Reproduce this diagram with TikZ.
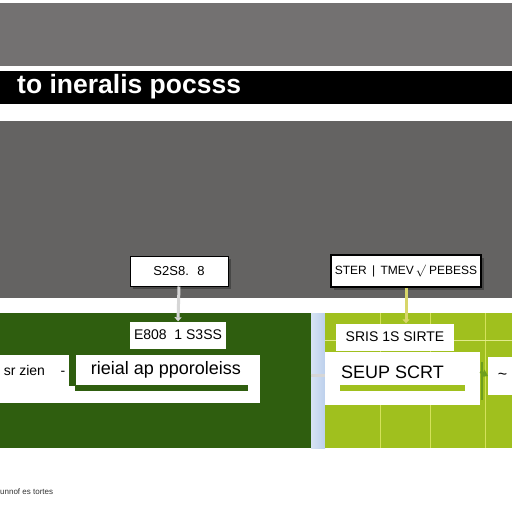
\documentclass[tikz,border=0pt]{standalone}
\usepackage{fontspec}
\setmainfont{Liberation Sans}
\usetikzlibrary{arrows.meta,shadows}
\definecolor{topgray}{HTML}{737171}
\definecolor{midgray}{HTML}{646362}
\definecolor{darkgreen}{HTML}{2F5E0F}
\definecolor{lightgreen}{HTML}{A0C01E}
\definecolor{gridline}{HTML}{D4E25A}
\definecolor{bluestrip}{HTML}{BCD0EC}
\definecolor{conngray}{HTML}{D6D6D6}
\definecolor{connyellow}{HTML}{D8D66A}
\definecolor{arrowgreen}{HTML}{6E9E1E}
\begin{document}
\begin{tikzpicture}[x=1pt,y=-1pt,
  box/.style={fill=white, inner sep=0pt, align=center, font=\fontsize{13}{13}\selectfont},
  outlined/.style={box, draw=black, line width=1pt, drop shadow={shadow xshift=3pt, shadow yshift=-3pt, fill=black!75, opacity=0.8}},
  thickbox/.style={box, draw=black, line width=2.2pt, drop shadow={shadow xshift=3pt, shadow yshift=-3pt, fill=black!75, opacity=0.8}},
  conn/.style={line width=3pt, -{Triangle[length=4pt,width=7pt]}}
]
\useasboundingbox (0,0) rectangle (512,512);
\fill[white] (0,0) rectangle (512,512);
% bands
\fill[topgray] (0,3) rectangle (512,66);
\fill[black] (0,71) rectangle (512,104);
\node[anchor=west, text=white, inner sep=0pt, font=\fontsize{26.5}{26.5}\selectfont\bfseries] (title) at (17,87) {to ineralis pocsss};
\fill[midgray] (0,121) rectangle (512,298);
% panels
\fill[darkgreen] (0,313) rectangle (311,448);
\shade[left color=bluestrip!60!white, right color=bluestrip] (311,313) rectangle (325,448);
\fill[lightgreen] (325,313) rectangle (512,448);
\foreach \gx in {380,430,485} \draw[gridline, line width=1pt] (\gx,313) -- (\gx,448);
\draw[gridline!70!white, line width=1pt] (325,340) -- (512,340);
% white under-panels
\fill[white] (0,355) rectangle (260,403);
\fill[darkgreen] (75,384) rectangle (248,391);
\fill[white] (325,352) rectangle (480,405);
% boxes
\node[outlined, minimum width=98pt, minimum height=30pt] (b1) at (179,271) {S2S8. \;8};
\node[thickbox, minimum width=150pt, minimum height=32pt, font=\fontsize{12}{12}\selectfont] (b2) at (406,271) {STER \,|\, TMEV\,\raisebox{1pt}{$\surd$} PEBESS};
\node[box, minimum width=96pt, minimum height=27pt, font=\fontsize{14}{14}\selectfont] (b3) at (178,335) {E808 \;1 S3SS};
\node[box, minimum width=118pt, minimum height=27pt, font=\fontsize{14}{14}\selectfont] (b4) at (395,337) {SRIS 1S SIRTE};
\node[box, minimum width=69pt, minimum height=30pt, font=\fontsize{14}{14}\selectfont] (bl) at (34.5,370) {sr zien \;\; -};
\node[box, minimum width=183pt, minimum height=29pt, font=\fontsize{18}{18}\selectfont] (bm) at (166,370) {rieial ap pporoleiss};
\node[box, anchor=west, fill=none, font=\fontsize{18}{18}\selectfont] (br) at (341,372) {SEUP SCRT};
\coordinate (brw) at (325,375);
\coordinate (bre) at (480,372);
\fill[lightgreen] (340,385) rectangle (465,391);
\node[box, minimum width=26pt, minimum height=38pt, anchor=west, font=\fontsize{16}{16}\selectfont] (bs) at (488,376) {\,\~{}};
% connectors
\draw[conngray, conn] (b1.south) -- (b3.north);
\draw[connyellow, conn] (b2.south) -- (b2.south |- b4.north);
\fill[darkgreen] (69,355) rectangle (76,386);
\draw[darkgreen, line width=0pt] (bl.east) -- (bm.west);
\draw[conngray, line width=3pt] (bm.east |- brw) ++(53,0) -- (brw);
\draw[arrowgreen, line width=2pt] (482,362) -- (482,400);
\draw[arrowgreen, line width=2pt, -{Triangle[length=6pt,width=8pt]}] (bre) -- (bs.west);
% footer
\node[anchor=west, inner sep=0pt, text=black!80, font=\fontsize{8}{8}\selectfont] (foot) at (0,492) {unnof es tortes};
\end{tikzpicture}
\end{document}
